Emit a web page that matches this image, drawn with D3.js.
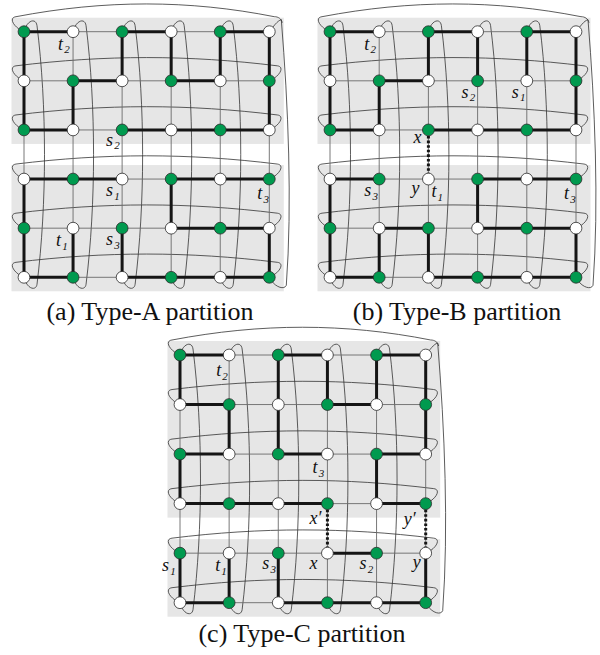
<!DOCTYPE html>
<html><head><meta charset="utf-8">
<script src="https://cdn.jsdelivr.net/npm/d3@7"></script>
<style>body{margin:0;background:#fff}svg{display:block}</style>
</head><body><svg id="c" width="600" height="655"></svg>
<script>
// ---------------- DATA ----------------
const nodeColors = ["GWGWGW","WGWGWG","GWGWGW","WGWGWG","GWGWGW","WGWGWG"];
const captions = ["(a) Type-A partition","(b) Type-B partition","(c) Type-C partition"];
const blockSplit = [3,3,4];            // first row of the lower block
// thick (partition) edges [r1,c1,r2,c2]
const thickA = [[0,0,0,1],[0,2,0,3],[0,4,0,5],[0,0,1,0],[0,2,1,2],[0,3,1,3],[0,4,1,4],[0,5,1,5],
  [1,1,1,2],[1,3,1,4],[1,0,2,0],[1,1,2,1],[1,5,2,5],[2,0,2,1],[2,2,2,3],[2,3,2,4],[2,4,2,5],
  [3,0,3,1],[3,1,3,2],[3,3,3,4],[3,4,3,5],[3,0,4,0],[3,3,4,3],[4,3,4,4],[4,4,4,5],
  [4,0,5,0],[4,1,5,1],[4,2,5,2],[4,5,5,5],[5,0,5,1],[5,2,5,3],[5,3,5,4],[5,4,5,5]];
const thickB = [[0,0,0,1],[0,2,0,3],[0,4,0,5],[0,0,1,0],[0,2,1,2],[0,3,1,3],[0,4,1,4],[0,5,1,5],
  [1,1,1,2],[1,0,2,0],[1,1,2,1],[1,5,2,5],[2,0,2,1],[2,2,2,3],[2,3,2,4],[2,4,2,5],
  [3,0,3,1],[3,3,3,4],[3,4,3,5],[3,0,4,0],[3,3,4,3],[4,1,4,2],[4,3,4,4],[4,4,4,5],
  [4,0,5,0],[4,1,5,1],[4,2,5,2],[4,5,5,5],[5,0,5,1],[5,2,5,3],[5,3,5,4],[5,4,5,5]];
const thickC = [[0,0,0,1],[0,2,0,3],[0,4,0,5],[0,0,1,0],[0,2,1,2],[0,3,1,3],[0,4,1,4],[0,5,1,5],
  [1,0,1,1],[1,3,1,4],[1,1,2,1],[1,2,2,2],[1,5,2,5],[2,0,2,1],[2,2,2,3],[2,4,2,5],
  [2,0,3,0],[2,4,3,4],[3,0,3,1],[3,1,3,2],[3,2,3,3],[3,4,3,5],[4,3,4,4],
  [4,0,5,0],[4,1,5,1],[4,2,5,2],[4,5,5,5],[5,0,5,1],[5,2,5,3],[5,3,5,4],[5,4,5,5]];
const dottedA = [];
const dottedB = [[2,2,3,2]];
const dottedC = [[3,3,4,3],[3,5,4,5]];
// labels [row, col, letter, prime, subscript]
const labelsA = [[0,1,"t","","2"],[2,2,"s","","2"],[3,2,"s","","1"],[3,5,"t","","3"],[4,1,"t","","1"],[4,2,"s","","3"]];
const labelsB = [[0,1,"t","","2"],[1,3,"s","","2"],[1,4,"s","","1"],[2,2,"x","",""],[3,1,"s","","3"],
  [3,2,"y","",""],[3,2,"t","","1"],[3,5,"t","","3"]];
const labelsC = [[0,1,"t","","2"],[2,3,"t","","3"],[3,3,"x","′",""],[3,5,"y","′",""],[4,0,"s","","1"],
  [4,1,"t","","1"],[4,2,"s","","3"],[4,3,"x","",""],[4,4,"s","","2"],[4,5,"y","",""]];

// ---------------- LAYOUT ----------------
const panels = [
  {xr:[24,269.3], yr:[31.7,277.3], cap:[150,320], thick:thickA, dotted:dottedA, labels:labelsA},
  {xr:[330,576], yr:[31.7,277.3], cap:[457,320], thick:thickB, dotted:dottedB, labels:labelsB},
  {xr:[180,425.7], yr:[355,602.7], cap:[302,642], thick:thickC, dotted:dottedC, labels:labelsC}
];
const labelOff = [
  [[-15,18],[-16,16],[-16,17],[-12,20],[-17,18],[-16,17]],
  [[-15,18],[-16,17],[-15,17],[-15,13],[-15,17],[-17,15],[3,18],[-12,20]],
  [[-13,21],[-15,19],[-18,20],[-22,21],[-18,18],[-14,18],[-16,16],[-18,16],[-17,16],[-13,15]]
];
const SERIF = "Liberation Serif";
const GREEN = "#009a4f";
const svg = d3.select("#c");
svg.append("rect").attr("width",600).attr("height",655).attr("fill","#fff");

panels.forEach((P, pi) => {
  const nR = nodeColors.length, nC = nodeColors[0].length;
  const x = d3.scaleLinear().domain([0, nC-1]).range(P.xr);
  const y = d3.scaleLinear().domain([0, nR-1]).range(P.yr);
  const g = svg.append("g");
  const split = blockSplit[pi];
  [[0, split-1],[split, nR-1]].forEach(([r0,r1]) => {
    g.append("rect").attr("x", x(0)-12.5).attr("y", y(r0)-14)
      .attr("width", x(nC-1)-x(0)+27).attr("height", y(r1)-y(r0)+28)
      .attr("fill","#e6e6e6");
  });
  const L = x(0), R = x(nC-1), T = y(0), B = y(nR-1), W = R-L, H = B-T;
  const wrap = g.append("g").attr("fill","none").attr("stroke","#333").attr("stroke-width",0.8);
  d3.range(nR).forEach(r => {
    const Y = y(r);
    const up = r === 0 ? 32 : 26;
    let p = `M${L},${Y} C${L-10},${Y-4} ${L-16},${Y-14} ${L-8},${Y-15} ` +
            `C${L+W*0.33},${Y-up} ${R-W*0.33},${Y-up} `;
    if (r === 0) p += `${R+5},${Y-15} C${R+9},${Y-15} ${R+12},${Y-13} ${R+13},${Y-9}`;
    else p += `${R+8},${Y-15} C${R+16},${Y-14} ${R+10},${Y-4} ${R},${Y}`;
    wrap.append("path").attr("d", p);
  });
  d3.range(nC).forEach(c => {
    const X = x(c);
    let p;
    if (c === nC-1) {
      p = `M${X},${T} C${X+4},${T-5} ${X+8},${T-11} ${X+12},${T-12} ` +
          `C${X+19},${T+H*0.3} ${X+23},${B-H*0.3} ${X+17},${B+8} C${X+15},${B+13} ${X+5},${B+10} ${X},${B}`;
    } else {
      p = `M${X},${T} C${X+3},${T-12} ${X+12},${T-14} ${X+13},${T-6} ` +
          `C${X+23},${T+H*0.3} ${X+23},${B-H*0.3} ${X+13},${B+7} C${X+12},${B+14} ${X+3},${B+12} ${X},${B}`;
    }
    wrap.append("path").attr("d", p);
  });
  const grid = g.append("g").attr("stroke","#6a6a6a").attr("stroke-width",0.9);
  d3.range(nR).forEach(r => d3.range(nC-1).forEach(c =>
    grid.append("line").attr("x1",x(c)).attr("y1",y(r)).attr("x2",x(c+1)).attr("y2",y(r))));
  d3.range(nC).forEach(c => d3.range(nR-1).forEach(r =>
    grid.append("line").attr("x1",x(c)).attr("y1",y(r)).attr("x2",x(c)).attr("y2",y(r+1))));
  g.append("g").attr("stroke","#151515").attr("stroke-width",3).attr("stroke-linecap","square")
    .selectAll("line").data(P.thick).join("line")
    .attr("x1",d=>x(d[1])).attr("y1",d=>y(d[0])).attr("x2",d=>x(d[3])).attr("y2",d=>y(d[2]));
  g.append("g").attr("stroke","#151515").attr("stroke-width",3).attr("stroke-dasharray","2.6,2")
    .selectAll("line").data(P.dotted).join("line")
    .attr("x1",d=>x(d[1])).attr("y1",d=>y(d[0])+6).attr("x2",d=>x(d[3])).attr("y2",d=>y(d[2])-6);
  const nodes = [];
  nodeColors.forEach((row, r) => row.split("").forEach((col, c) => nodes.push({r, c, col})));
  g.append("g").selectAll("circle").data(nodes).join("circle")
    .attr("cx",d=>x(d.c)).attr("cy",d=>y(d.r)).attr("r",5.9)
    .attr("fill",d=>d.col==="G"?GREEN:"#fff").attr("stroke","#2a2a2a").attr("stroke-width",0.8);
  P.labels.forEach((lb, li) => {
    const [dx, dy] = labelOff[pi][li];
    const t = g.append("text").attr("x", x(lb[1])+dx).attr("y", y(lb[0])+dy)
      .attr("font-family", SERIF).attr("font-style","italic")
      .attr("font-size",18).attr("fill","#111");
    t.append("tspan").text(lb[2]);
    if (lb[3]) t.append("tspan").text(lb[3]);
    if (lb[4]) t.append("tspan").attr("font-size",11).attr("dy",3.5).attr("dx",1.2).text(lb[4]);
  });
  svg.append("text").attr("x",P.cap[0]).attr("y",P.cap[1]).attr("text-anchor","middle")
    .attr("font-family", SERIF).attr("font-size",26).attr("fill","#111")
    .text(captions[pi]);
});
</script></body></html>
